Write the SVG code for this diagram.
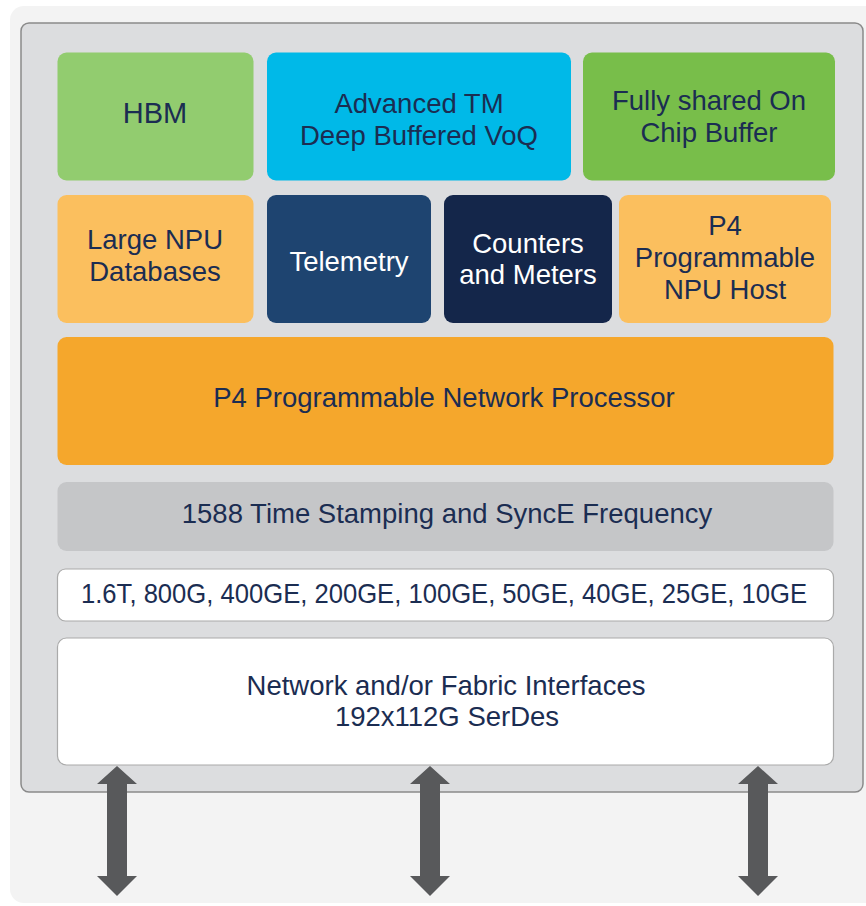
<svg xmlns="http://www.w3.org/2000/svg" width="866" height="906" viewBox="0 0 866 906">
<style>
  .t{font-family:"Liberation Sans",Arial,sans-serif;font-size:27.5px;fill:#1b2d52;text-anchor:middle}
  .w{fill:#ffffff}
  .arrow{fill:#58595b}
</style>
<rect x="10" y="6" width="870" height="897" rx="14" fill="#f3f3f3"/>
<g id="chip">
  <rect x="21" y="23" width="842" height="769" rx="8" fill="#dcdddf" stroke="#8a8a8a" stroke-width="1.5"/>
</g>
<g id="hbm">
  <rect x="57.5" y="52.5" width="196" height="128" rx="9" fill="#92cc6f"/>
  <text class="t" x="155" y="123" style="font-size:29px">HBM</text>
</g>
<g id="advanced-tm">
  <rect x="267" y="52.5" width="304" height="128" rx="9" fill="#00b9e8"/>
  <text class="t" x="419" y="113">Advanced TM</text>
  <text class="t" x="419" y="145">Deep Buffered VoQ</text>
</g>
<g id="onchip-buffer">
  <rect x="583" y="52.5" width="252" height="128" rx="9" fill="#78be4a"/>
  <text class="t" x="709" y="110">Fully shared On</text>
  <text class="t" x="709" y="142">Chip Buffer</text>
</g>
<g id="npu-databases">
  <rect x="57.5" y="195" width="196" height="128" rx="9" fill="#fbbf5e"/>
  <text class="t" x="155" y="249">Large NPU</text>
  <text class="t" x="155" y="281">Databases</text>
</g>
<g id="telemetry">
  <rect x="267" y="195" width="164" height="128" rx="9" fill="#1e4470"/>
  <text class="t w" x="349" y="271">Telemetry</text>
</g>
<g id="counters">
  <rect x="444" y="195" width="168" height="128" rx="9" fill="#14264a"/>
  <text class="t w" x="528" y="253">Counters</text>
  <text class="t w" x="528" y="284">and Meters</text>
</g>
<g id="npu-host">
  <rect x="619" y="195" width="212" height="128" rx="9" fill="#fbbf5e"/>
  <text class="t" x="725" y="235">P4</text>
  <text class="t" x="725" y="267">Programmable</text>
  <text class="t" x="725" y="299">NPU Host</text>
</g>
<g id="network-processor">
  <rect x="57.5" y="337" width="776" height="128" rx="9" fill="#f5a72c"/>
  <text class="t" x="444" y="407">P4 Programmable Network Processor</text>
</g>
<g id="timestamping">
  <rect x="57.5" y="482" width="776" height="69" rx="9" fill="#c5c6c8"/>
  <text class="t" x="447" y="523">1588 Time Stamping and SyncE Frequency</text>
</g>
<g id="speeds">
  <rect x="57.5" y="569" width="776" height="52" rx="8" fill="#ffffff" stroke="#aaaaaa" stroke-width="1.2"/>
  <text class="t" x="444" y="603" textLength="726" lengthAdjust="spacingAndGlyphs">1.6T, 800G, 400GE, 200GE, 100GE, 50GE, 40GE, 25GE, 10GE</text>
</g>
<g id="interfaces">
  <rect x="57.5" y="638" width="776" height="127" rx="9" fill="#ffffff" stroke="#aaaaaa" stroke-width="1.2"/>
  <text class="t" x="446" y="695">Network and/or Fabric Interfaces</text>
  <text class="t" x="447" y="726">192x112G SerDes</text>
</g>
<g id="connectors">
  <polygon class="arrow" points="117,766 137,784 127,784 127,876 137,876 117,896 97,876 107,876 107,784 97,784"/>
  <polygon class="arrow" points="430,766 450,784 440,784 440,876 450,876 430,896 410,876 420,876 420,784 410,784"/>
  <polygon class="arrow" points="758,766 778,784 768,784 768,876 778,876 758,896 738,876 748,876 748,784 738,784"/>
</g>
</svg>
